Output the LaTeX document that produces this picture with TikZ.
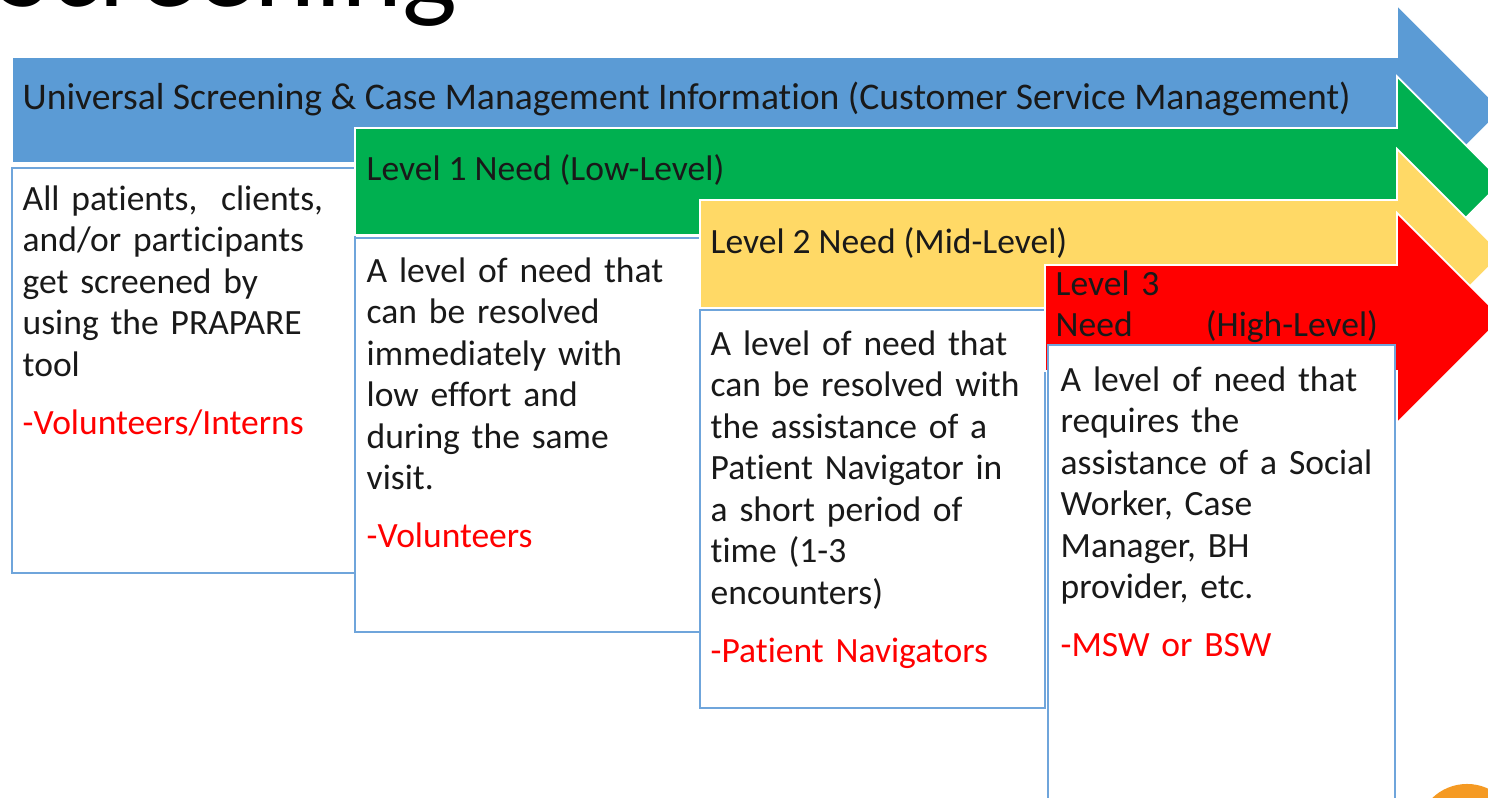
\documentclass[tikz,border=0pt]{standalone}
\usepackage{fontspec}
\setmainfont{Carlito}[Ligatures=NoCommon]
\definecolor{lvlblue}{HTML}{5B9BD5}
\definecolor{lvlgreen}{HTML}{00B050}
\definecolor{lvlyellow}{HTML}{FFD966}
\definecolor{lvlred}{HTML}{FF0000}
\definecolor{lvlline}{HTML}{6FA5DB}
\definecolor{dotorange}{HTML}{F59A23}
\tikzset{every node/.style={inner sep=0pt,align=left,text=black!90,font=\fontsize{10.1}{11.8}\selectfont}}
\tikzset{band/.style={draw=white,line width=0.5pt}}
\tikzset{card/.style={draw=lvlline,line width=0.6pt,fill=white}}
\tikzset{note/.style={anchor=north west}}
\tikzset{head/.style={anchor=base west}}
\newcommand{\who}[1]{\\[4.6pt]\textcolor{lvlred}{#1}}
\newcommand{\lvlarrow}[4]{\filldraw[band,fill=#1] (#2,#3) -- (1397,#3) -- (1397,{(#3+#4)/2-105}) -- (1502,{(#3+#4)/2}) -- (1397,{(#3+#4)/2+105}) -- (1397,#4) -- (#2,#4) -- cycle;}

\begin{document}
\begin{tikzpicture}[x=0.01cm,y=-0.01cm]
\clip (0,0) rectangle (1488,798);
\fill[white] (0,0) rectangle (1488,798);

\node[anchor=base east,font=\fontsize{33}{33}\selectfont,text=black](title) at (458,7) {Screening};

\lvlarrow{lvlblue}{12}{57}{163}
\node[head,font=\fontsize{10.7}{12}\selectfont](univ) at (22,110) {Universal Screening \& Case Management Information (Customer Service Management)};
\draw[card] (12,168) rectangle (355,573);
\node[note,text width=3.3cm](note0) at (22,185) {All patients,\ \ clients,\\and/or participants\\get screened by\\using the PRAPARE\\tool\who{-Volunteers/Interns}};

\lvlarrow{lvlgreen}{355}{128}{235}
\node[head](lvl1) at (366,181) {Level 1 Need (Low-Level)};
\draw[card] (355,238) rectangle (700,632);
\node[note,text width=3.3cm](note1) at (366,257) {A level of need that\\can be resolved\\immediately with\\low effort and\\during the same\\visit.\who{-Volunteers}};

\lvlarrow{lvlyellow}{700}{200}{308}
\node[head](lvl2) at (710,254) {Level 2 Need (Mid-Level)};
\draw[card] (700,310) rectangle (1045,708);
\node[note,text width=3.3cm](note2) at (710,330) {A level of need that\\can be resolved with\\the assistance of a\\Patient Navigator in\\a short period of\\time (1-3\\encounters)\who{-Patient Navigators}};

\lvlarrow{lvlred}{1045}{265}{371}
\node[note,text width=3.22cm](lvl3) at (1055,270) {Level 3\\Need\hfill(High-Level)};
\draw[card] (1048,345) rectangle (1395,830);
\node[note,text width=3.3cm](note3) at (1060,366) {A level of need that\\requires the\\assistance of a Social\\Worker, Case\\Manager, BH\\provider, etc.\who{-MSW or BSW}};

\fill[dotorange] (1467,834) circle (0.5cm);
\end{tikzpicture}
\end{document}
